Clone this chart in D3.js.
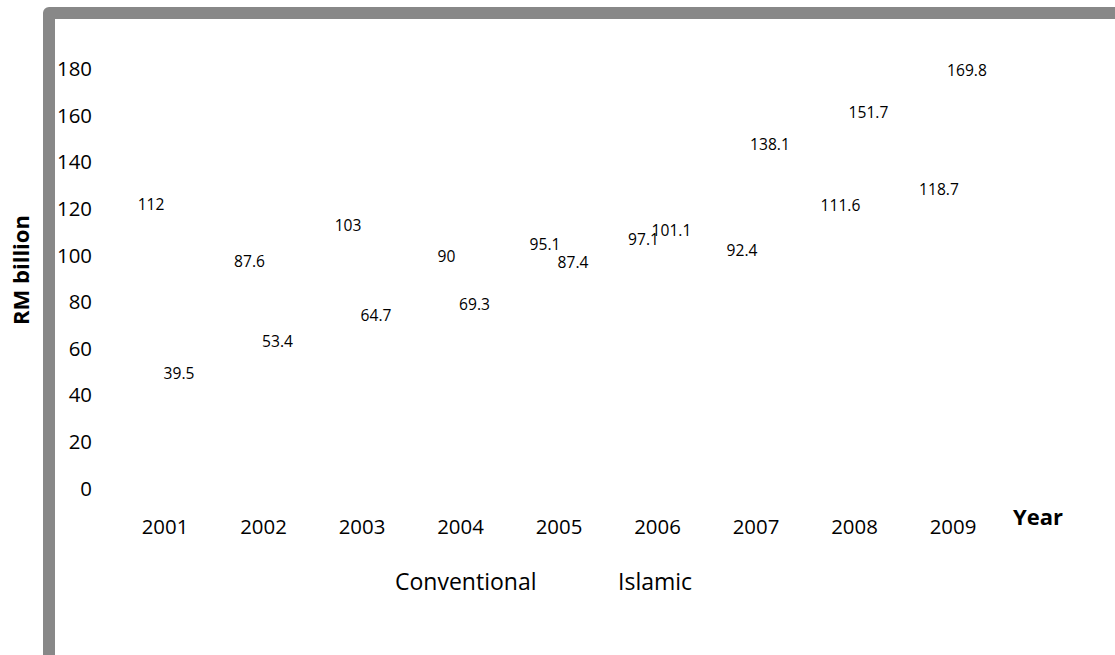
<!DOCTYPE html>
<html>
<head>
<meta charset="utf-8">
<script src="https://cdn.jsdelivr.net/npm/d3@7/dist/d3.min.js"></script>
<style>
  html, body { margin: 0; padding: 0; background: #fff; }
  svg { display: block; font-family: "Open Sans", sans-serif; }
</style>
</head>
<body>
<svg id="chart" width="1115" height="655"></svg>
<script>
const years = ["2001","2002","2003","2004","2005","2006","2007","2008","2009"];
const conventional = [112, 87.6, 103, 90, 95.1, 97.1, 92.4, 111.6, 118.7];
const islamic = [39.5, 53.4, 64.7, 69.3, 87.4, 101.1, 138.1, 151.7, 169.8];
const seriesNames = ["Conventional", "Islamic"];
const yTicks = [0, 20, 40, 60, 80, 100, 120, 140, 160, 180];

const svg = d3.select("#chart");

// outer frame (partially visible, gray)
svg.append("rect")
  .attr("x", 49).attr("y", 13)
  .attr("width", 1200).attr("height", 800)
  .attr("fill", "none")
  .attr("stroke", "#888888")
  .attr("stroke-width", 12)
  .attr("stroke-linejoin", "round");

const x = d3.scaleBand().domain(years).range([115.75, 1002.25]).paddingInner(0).paddingOuter(0);
const y = d3.scaleLinear().domain([0, 180]).range([488, 68.5]);
const sub = d3.scaleBand().domain(seriesNames).range([-28, 28]);

const series = [
  { name: "Conventional", values: conventional },
  { name: "Islamic", values: islamic }
];

// y axis (labels only)
const yAxis = svg.append("g").attr("transform", "translate(92,0)")
  .call(d3.axisLeft(y).tickValues(yTicks).tickSize(0).tickPadding(0));
yAxis.select(".domain").remove();
yAxis.selectAll("text")
  .attr("font-family", "Open Sans, sans-serif")
  .attr("font-size", 20.4).attr("fill", "#000").attr("dy", "0.35em");

// x axis (labels only)
const xAxis = svg.append("g").attr("transform", "translate(0,527)")
  .call(d3.axisBottom(x).tickSize(0).tickPadding(0));
xAxis.select(".domain").remove();
xAxis.selectAll("text")
  .attr("font-family", "Open Sans, sans-serif")
  .attr("font-size", 20.4).attr("fill", "#000").attr("dy", "0.35em");

const cx = (s, i) => x(years[i]) + x.bandwidth() / 2 + sub(s.name) + sub.bandwidth() / 2;

// bars first (white, invisible as in reference)
const barsG = svg.append("g").attr("class", "bars");
series.forEach(s => {
  barsG.append("g").selectAll("rect").data(s.values).join("rect")
    .attr("x", (d, i) => x(years[i]) + x.bandwidth() / 2 + sub(s.name) + 1)
    .attr("width", sub.bandwidth() - 2)
    .attr("y", d => y(d))
    .attr("height", d => y(0) - y(d))
    .attr("fill", "#ffffff");
});

// value labels on top
const labelsG = svg.append("g").attr("class", "labels");
series.forEach(s => {
  labelsG.append("g").selectAll("text").data(s.values).join("text")
    .attr("x", (d, i) => cx(s, i))
    .attr("y", d => y(d) - 22)
    .attr("dy", "0.35em")
    .attr("text-anchor", "middle")
    .attr("font-size", 15.6)
    .attr("fill", "#000")
    .text(d => d);
});

// axis titles
svg.append("text")
  .attr("transform", "translate(21,270) rotate(-90)")
  .attr("text-anchor", "middle").attr("dy", "0.35em")
  .attr("font-weight", "bold").attr("font-size", 22)
  .attr("fill", "#000")
  .text("RM billion");

svg.append("text")
  .attr("x", 1013).attr("y", 517).attr("dy", "0.35em")
  .attr("font-weight", "bold").attr("font-size", 22)
  .attr("fill", "#000")
  .text("Year");

// legend (swatches invisible as in reference)
const legendX = [395, 618];
const legend = svg.append("g");
seriesNames.forEach((n, i) => {
  legend.append("rect")
    .attr("x", legendX[i] - 18).attr("y", 576)
    .attr("width", 12).attr("height", 12)
    .attr("fill", "#ffffff");
  legend.append("text")
    .attr("x", legendX[i]).attr("y", 582).attr("dy", "0.35em")
    .attr("font-size", 23).attr("fill", "#000")
    .text(n);
});
</script>
</body>
</html>
